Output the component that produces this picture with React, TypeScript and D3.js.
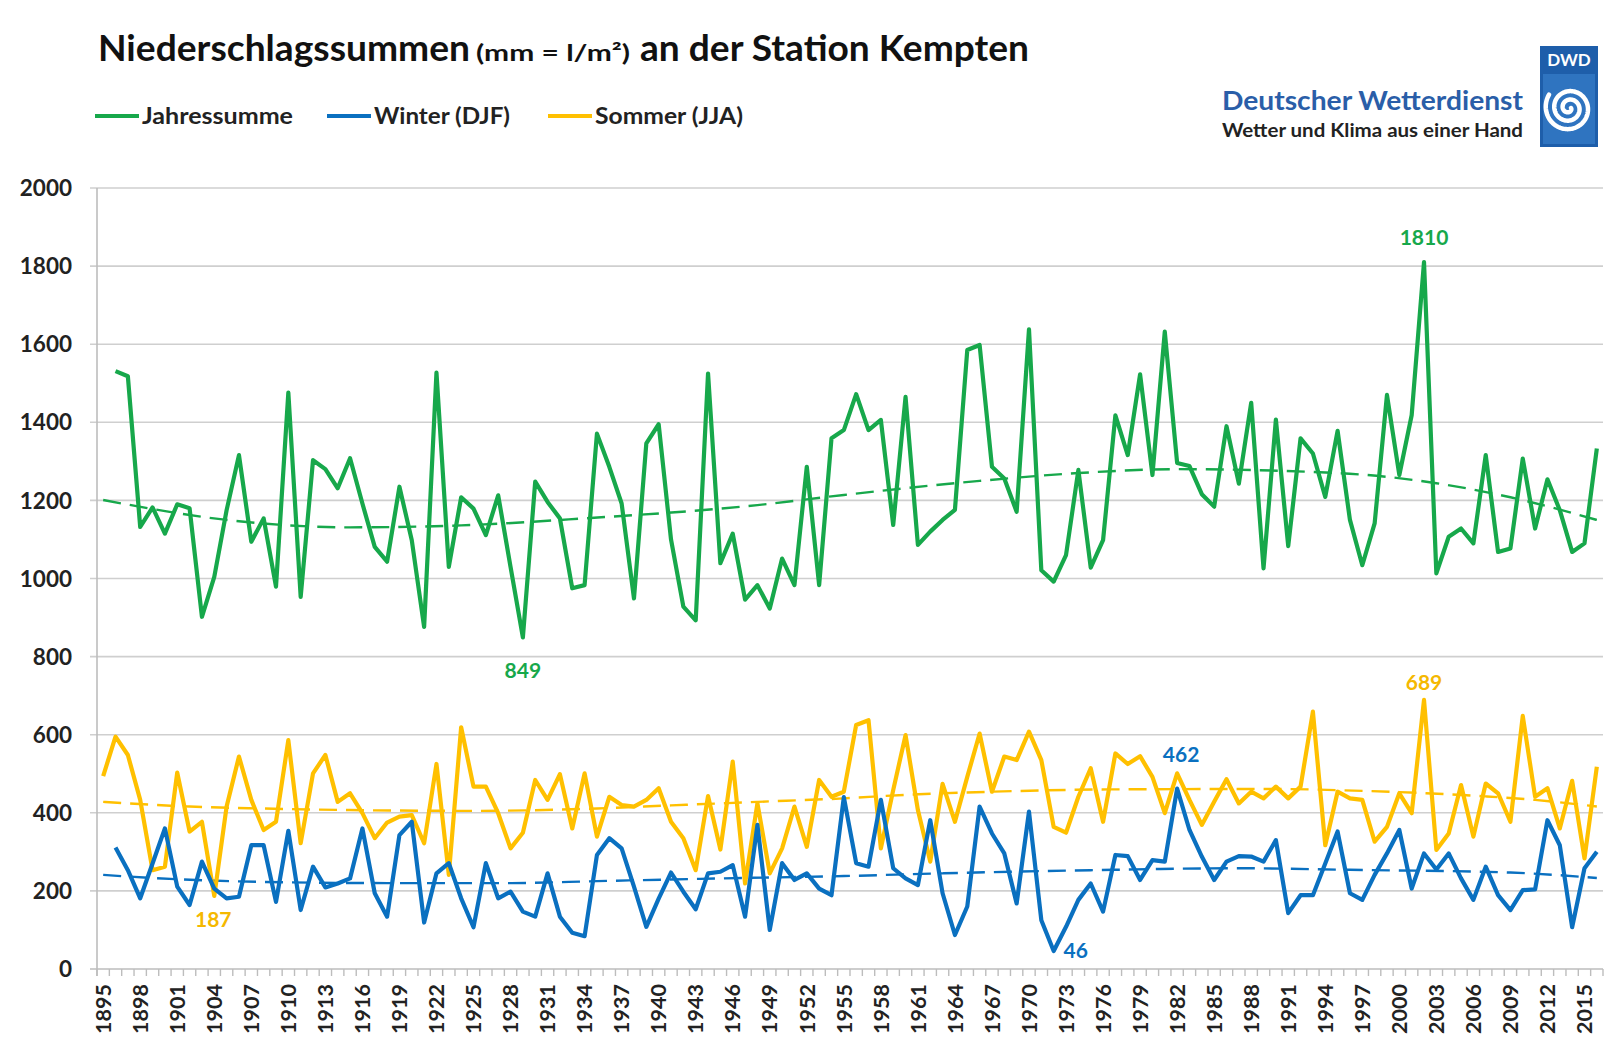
import React, { useEffect } from 'react';
import * as d3 from 'd3';

const firstYear = 1895;
const lastYear = 2016;
const years: number[] = d3.range(firstYear, lastYear + 1);

// Jahressumme (mm), 1895..2016
const jahressumme: (number | null)[] = [
  null, 1531, 1518, 1132, 1182, 1115, 1190, 1180, 902, 1004, // 1895-1904
  1175, 1316, 1094, 1154, 979, 1476, 953, 1303, 1280, 1231, // 1905-1914
  1308, 1192, 1081, 1043, 1235, 1098, 876, 1527, 1030, 1208, // 1915-1924
  1179, 1111, 1213, 1030, 849, 1248, 1196, 1154, 975, 983, // 1925-1934
  1371, 1286, 1192, 949, 1346, 1395, 1100, 928, 893, 1525, // 1935-1944
  1039, 1115, 946, 983, 923, 1051, 983, 1286, 983, 1359, // 1945-1954
  1380, 1472, 1380, 1406, 1137, 1465, 1086, 1120, 1150, 1176, // 1955-1964
  1585, 1598, 1286, 1256, 1171, 1638, 1021, 992, 1060, 1278, // 1965-1974
  1028, 1098, 1418, 1316, 1523, 1265, 1632, 1296, 1288, 1216, // 1975-1984
  1184, 1390, 1243, 1450, 1026, 1407, 1083, 1359, 1320, 1209, // 1985-1994
  1378, 1150, 1034, 1141, 1470, 1265, 1418, 1810, 1013, 1107, // 1995-2004
  1128, 1090, 1316, 1068, 1077, 1307, 1128, 1254, 1175, 1068, // 2005-2014
  1090, 1333, // 2015-2016
];

// Winter (DJF), 1895..2016
const winter: (number | null)[] = [
  null, 311, 253, 181, 270, 360, 211, 164, 275, 206, // 1895-1904
  181, 185, 317, 317, 172, 354, 151, 262, 209, 219, // 1905-1914
  232, 360, 194, 134, 343, 377, 119, 245, 271, 181, // 1915-1924
  107, 271, 181, 198, 147, 134, 245, 134, 93, 84, // 1925-1934
  292, 335, 309, 211, 108, 180, 247, 198, 153, 245, // 1935-1944
  249, 266, 134, 369, 100, 271, 228, 245, 206, 189, // 1945-1954
  440, 271, 262, 433, 258, 232, 215, 381, 194, 87, // 1955-1964
  160, 416, 347, 296, 168, 403, 125, 46, 108, 177, // 1965-1974
  219, 147, 292, 289, 228, 279, 275, 462, 356, 288, // 1975-1984
  228, 275, 289, 288, 275, 330, 143, 189, 189, 270, // 1985-1994
  352, 194, 177, 241, 296, 356, 206, 296, 255, 296, // 1995-2004
  232, 177, 262, 189, 151, 202, 204, 381, 317, 107, // 2005-2014
  258, 300, // 2015-2016
];

// Sommer (JJA), 1895..2016
const sommer: (number | null)[] = [
  494, 595, 548, 433, 253, 262, 503, 352, 377, 187, // 1895-1904
  416, 544, 433, 356, 377, 586, 322, 501, 548, 428, // 1905-1914
  450, 399, 335, 375, 390, 394, 322, 525, 241, 619, // 1915-1924
  467, 467, 399, 309, 349, 484, 433, 499, 360, 501, // 1925-1934
  339, 441, 420, 416, 433, 463, 377, 335, 253, 443, // 1935-1944
  306, 531, 219, 424, 245, 309, 416, 313, 484, 441, // 1945-1954
  454, 625, 637, 309, 458, 599, 407, 275, 474, 377, // 1955-1964
  492, 603, 454, 544, 535, 608, 535, 364, 349, 441, // 1965-1974
  514, 377, 552, 525, 545, 492, 399, 501, 433, 369, // 1975-1984
  428, 486, 424, 454, 437, 467, 437, 467, 659, 317, // 1985-1994
  454, 437, 433, 326, 364, 450, 399, 689, 305, 347, // 1995-2004
  471, 339, 475, 450, 377, 648, 441, 463, 360, 482, // 2005-2014
  283, 518, // 2015-2016
];

// Trend curves (dashed): [year, mm]
const trendJahressumme: [number, number][] = [
  [1895, 1201], [1905, 1150], [1915, 1131], [1924, 1136], [1934, 1154], [1948, 1188],
  [1955, 1214], [1966, 1250], [1974, 1270], [1982, 1280], [1995, 1270], [2003, 1244],
  [2009, 1208], [2016, 1150],
];
const trendWinter: [number, number][] = [
  [1895, 241], [1899, 233], [1908, 223], [1918, 220], [1928, 220], [1935, 225], [1945, 232],
  [1955, 238], [1963, 245], [1975, 253], [1987, 258], [1996, 254], [2009, 247], [2016, 233],
];
const trendSommer: [number, number][] = [
  [1895, 428], [1902, 416], [1908, 411], [1915, 407], [1925, 405], [1935, 411], [1941, 419],
  [1948, 428], [1955, 437], [1960, 446], [1967, 454], [1977, 460], [1990, 461], [1995, 458],
  [2000, 453], [2007, 442], [2011, 433], [2016, 416],
];

const yTicks: number[] = [0, 200, 400, 600, 800, 1000, 1200, 1400, 1600, 1800, 2000];
const xLabelYears: number[] = years.filter((y) => (y - firstYear) % 3 === 0);

const seriesNames = ['Jahressumme', 'Winter (DJF)', 'Sommer (JJA)'];
const seriesColors = ['#17a84b', '#0a70c0', '#ffc000'];

// labelled extremes: [seriesIndex, year, text, dx, dy]
const annotations: [number, number, string, number, number][] = [
  [0, 2002, '1810', 0, -25],
  [0, 1929, '849', 0, 33],
  [2, 2002, '689', 0, -18],
  [1, 1982, '462', 4, -34],
  [1, 1972, '46', 22, -1],
  [2, 1904, '187', -1, 23],
];

const W = 1613;
const H = 1043;
const left = 97;
const right = 1603;
const top = 188;
const bottom = 969;
const FONT = "Lato, 'Open Sans', 'DejaVu Sans', sans-serif";

function Logo() {
  const cx = 1569;
  const cy = 108;
  const spiral: [number, number][] = [];
  for (let a = 0; a <= Math.PI * 5.2; a += 0.05) {
    const r = 2 + a * 1.35;
    spiral.push([cx + r * Math.cos(a), cy + r * Math.sin(a)]);
  }
  const line = d3.line();
  return (
    <g>
      <rect x={1540} y={46} width={58} height={101} fill="#1e5eaa" />
      <rect x={1543} y={74} width={52} height={70} fill="#2f74c0" />
      <text x={1569} y={66} textAnchor="middle" fontFamily={FONT} fontWeight="bold" fontSize={17} fill="#ffffff">
        DWD
      </text>
      <path d={line(spiral) || ''} fill="none" stroke="#ffffff" strokeWidth={4.5} strokeLinecap="round" />
    </g>
  );
}

export default function App() {
  useEffect(() => {
    document.body.style.margin = '0';
  }, []);

  const x = d3.scaleBand<number>().domain(years).range([left, right]);
  const cx = (yr: number) => (x(yr) as number) + x.bandwidth() / 2;
  const y = d3.scaleLinear().domain([0, 2000]).range([bottom, top]);

  const series = [jahressumme, winter, sommer];
  const trendData = [trendJahressumme, trendWinter, trendSommer];
  const lineGen = d3
    .line<number | null>()
    .defined((d) => d != null)
    .x((_, i) => cx(years[i]))
    .y((d) => y(d as number));

  const trendGen = d3
    .line<[number, number]>()
    .curve(d3.curveMonotoneX)
    .x((d) => cx(d[0]))
    .y((d) => y(d[1]));

  const drawOrder = [0, 2, 1];

  const legendX = [95, 327, 548];
  const legendLen = [151, 136, 148];

  return (
    <div style={{ position: 'absolute', left: 0, top: 0 }}>
      <svg width={W} height={H} viewBox={`0 0 ${W} ${H}`} style={{ display: 'block', background: '#fff' }}>
        <rect x={0} y={0} width={W} height={H} fill="#ffffff" />

        {/* Title */}
        <g fontFamily={FONT} fontWeight="bold" fill="#111">
          <text x={98} y={61} fontSize={37} textLength={372} lengthAdjust="spacingAndGlyphs">
            Niederschlagssummen
          </text>
          <text x={476} y={61} fontSize={23} textLength={154} lengthAdjust="spacingAndGlyphs">
            (mm = l/m²)
          </text>
          <text x={640} y={61} fontSize={37} textLength={389} lengthAdjust="spacingAndGlyphs">
            an der Station Kempten
          </text>
        </g>

        {/* Legend */}
        {seriesNames.map((name, i) => {
          const lx = legendX[i];
          return (
            <g key={name}>
              <line x1={lx} x2={lx + 44} y1={116} y2={116} stroke={seriesColors[i]} strokeWidth={4.2} />
              <text
                x={lx + 47}
                y={124}
                fontFamily={FONT}
                fontWeight="bold"
                fontSize={23.5}
                fill="#222"
                textLength={legendLen[i]}
                lengthAdjust="spacingAndGlyphs"
              >
                {name}
              </text>
            </g>
          );
        })}

        {/* DWD */}
        <text
          x={1222}
          y={110}
          fontFamily={FONT}
          fontWeight="bold"
          fontSize={26}
          fill="#2a5ea8"
          textLength={301}
          lengthAdjust="spacingAndGlyphs"
        >
          Deutscher Wetterdienst
        </text>
        <text
          x={1222}
          y={137}
          fontFamily={FONT}
          fontWeight="bold"
          fontSize={19}
          fill="#222"
          textLength={301}
          lengthAdjust="spacingAndGlyphs"
        >
          Wetter und Klima aus einer Hand
        </text>
        <Logo />

        {/* Grid */}
        {yTicks.map((t) => (
          <g key={t}>
            <line x1={left - 7} x2={right} y1={y(t)} y2={y(t)} stroke={t === 0 ? '#bdbdbd' : '#cfcfcf'} strokeWidth={1.6} />
            <text x={72} y={y(t)} dy="0.36em" textAnchor="end" fontFamily={FONT} fontWeight="bold" fontSize={22.5} fill="#222">
              {t}
            </text>
          </g>
        ))}
        <line x1={left} x2={left} y1={top} y2={bottom + 7} stroke="#bdbdbd" strokeWidth={1.6} />

        {/* X ticks */}
        {years.concat([lastYear + 1]).map((yr) => {
          const xx = yr > lastYear ? right : (x(yr) as number);
          return <line key={yr} x1={xx} x2={xx} y1={bottom} y2={bottom + 7} stroke="#bdbdbd" strokeWidth={1.4} />;
        })}
        {xLabelYears.map((yr) => (
          <text
            key={yr}
            x={cx(yr)}
            y={984}
            transform={`rotate(-90, ${cx(yr)}, 984)`}
            textAnchor="end"
            dy="0.36em"
            fontFamily={FONT}
            fontWeight="bold"
            fontSize={21.5}
            fill="#222"
          >
            {yr}
          </text>
        ))}

        {/* Trends */}
        {drawOrder.map((i) => (
          <path
            key={'t' + i}
            d={trendGen(trendData[i]) || ''}
            fill="none"
            stroke={seriesColors[i]}
            strokeWidth={2.4}
            strokeDasharray="18,9"
          />
        ))}

        {/* Series */}
        {drawOrder.map((i) => (
          <path
            key={'s' + i}
            d={lineGen(series[i]) || ''}
            fill="none"
            stroke={seriesColors[i]}
            strokeWidth={4.2}
            strokeLinejoin="round"
          />
        ))}

        {/* Annotations */}
        {annotations.map(([si, yr, txt, dx, dy]) => {
          const v = series[si][yr - firstYear] as number;
          return (
            <text
              key={txt}
              x={cx(yr) + dx}
              y={y(v) + dy}
              dy="0.36em"
              textAnchor="middle"
              fontFamily={FONT}
              fontWeight="bold"
              fontSize={21}
              fill={seriesColors[si] === '#ffc000' ? '#f5b800' : seriesColors[si]}
            >
              {txt}
            </text>
          );
        })}
      </svg>
    </div>
  );
}
